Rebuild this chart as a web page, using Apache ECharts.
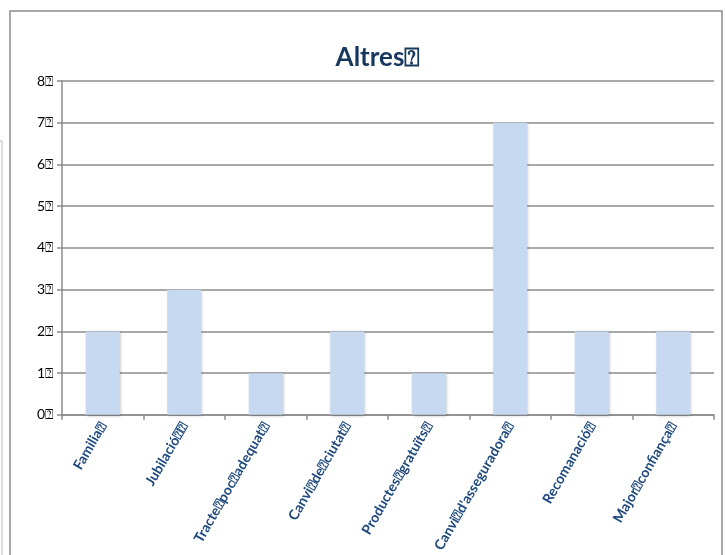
<!DOCTYPE html>
<html><head><meta charset="utf-8">
<script src="https://cdn.jsdelivr.net/npm/echarts@6/dist/echarts.min.js"></script>
<style>html,body{margin:0;padding:0;background:#fff}#c{width:725px;height:555px}</style>
</head><body><div id="c"></div>
<script>
const titleText = 'Altres⍰';
const categories = ['Familia⍰', 'Jubilació⍰⍰', 'Tracte⍰poc⍰adequat⍰', 'Canvi⍰de⍰ciutat⍰', 'Productes⍰gratuïts⍰', "Canvi⍰d'asseguradora⍰", 'Recomanació⍰', 'Major⍰confiança⍰'];
const values = [2, 3, 1, 2, 1, 7, 2, 2];
const yTickLabels = ['0⍰', '1⍰', '2⍰', '3⍰', '4⍰', '5⍰', '6⍰', '7⍰', '8⍰'];

const chart = echarts.init(document.getElementById('c'));
chart.setOption({
  animation: false,
  backgroundColor: '#fff',
  graphic: [
    {type: 'rect', shape: {x: 10, y: 11, width: 712, height: 560}, style: {fill: 'none', stroke: '#8a8a8a', lineWidth: 1.5}},
    {type: 'polyline', shape: {points: [[0, 141], [2, 141], [2, 560]]}, style: {fill: 'none', stroke: '#bbb', lineWidth: 1}}
  ],
  title: {
    text: titleText, left: 373, top: 40, textAlign: 'center',
    textStyle: {fontFamily: 'Lato', fontSize: 26, fontWeight: 'bold', color: '#17375e'}
  },
  grid: {left: 62, right: 11, top: 81, bottom: 139, containLabel: false},
  xAxis: {
    type: 'category', data: categories,
    axisLine: {lineStyle: {color: '#8c8c8c', width: 1.5}},
    axisTick: {show: true, length: 5, lineStyle: {color: '#8c8c8c', width: 1.5}},
    axisLabel: {rotate: 60, interval: 0, margin: 9, fontFamily: 'Lato', fontSize: 14, fontWeight: 'bold', color: '#1f497d'}
  },
  yAxis: {
    type: 'value', min: 0, max: 8, interval: 1,
    axisLine: {show: true, lineStyle: {color: '#8c8c8c', width: 1.5}},
    axisTick: {show: true, length: 5, lineStyle: {color: '#8c8c8c', width: 1.5}},
    splitLine: {show: true, lineStyle: {color: '#8c8c8c', width: 1.5}},
    axisLabel: {margin: 9, fontFamily: 'Lato', fontSize: 14, color: '#000',
      formatter: v => yTickLabels[v] !== undefined ? yTickLabels[v] : ''}
  },
  series: [{
    type: 'bar', data: values, barWidth: 34,
    itemStyle: {color: '#c6d9f1', shadowColor: 'rgba(0,0,0,0.25)', shadowBlur: 3, shadowOffsetX: 1, shadowOffsetY: 1}
  }]
});
</script></body></html>
